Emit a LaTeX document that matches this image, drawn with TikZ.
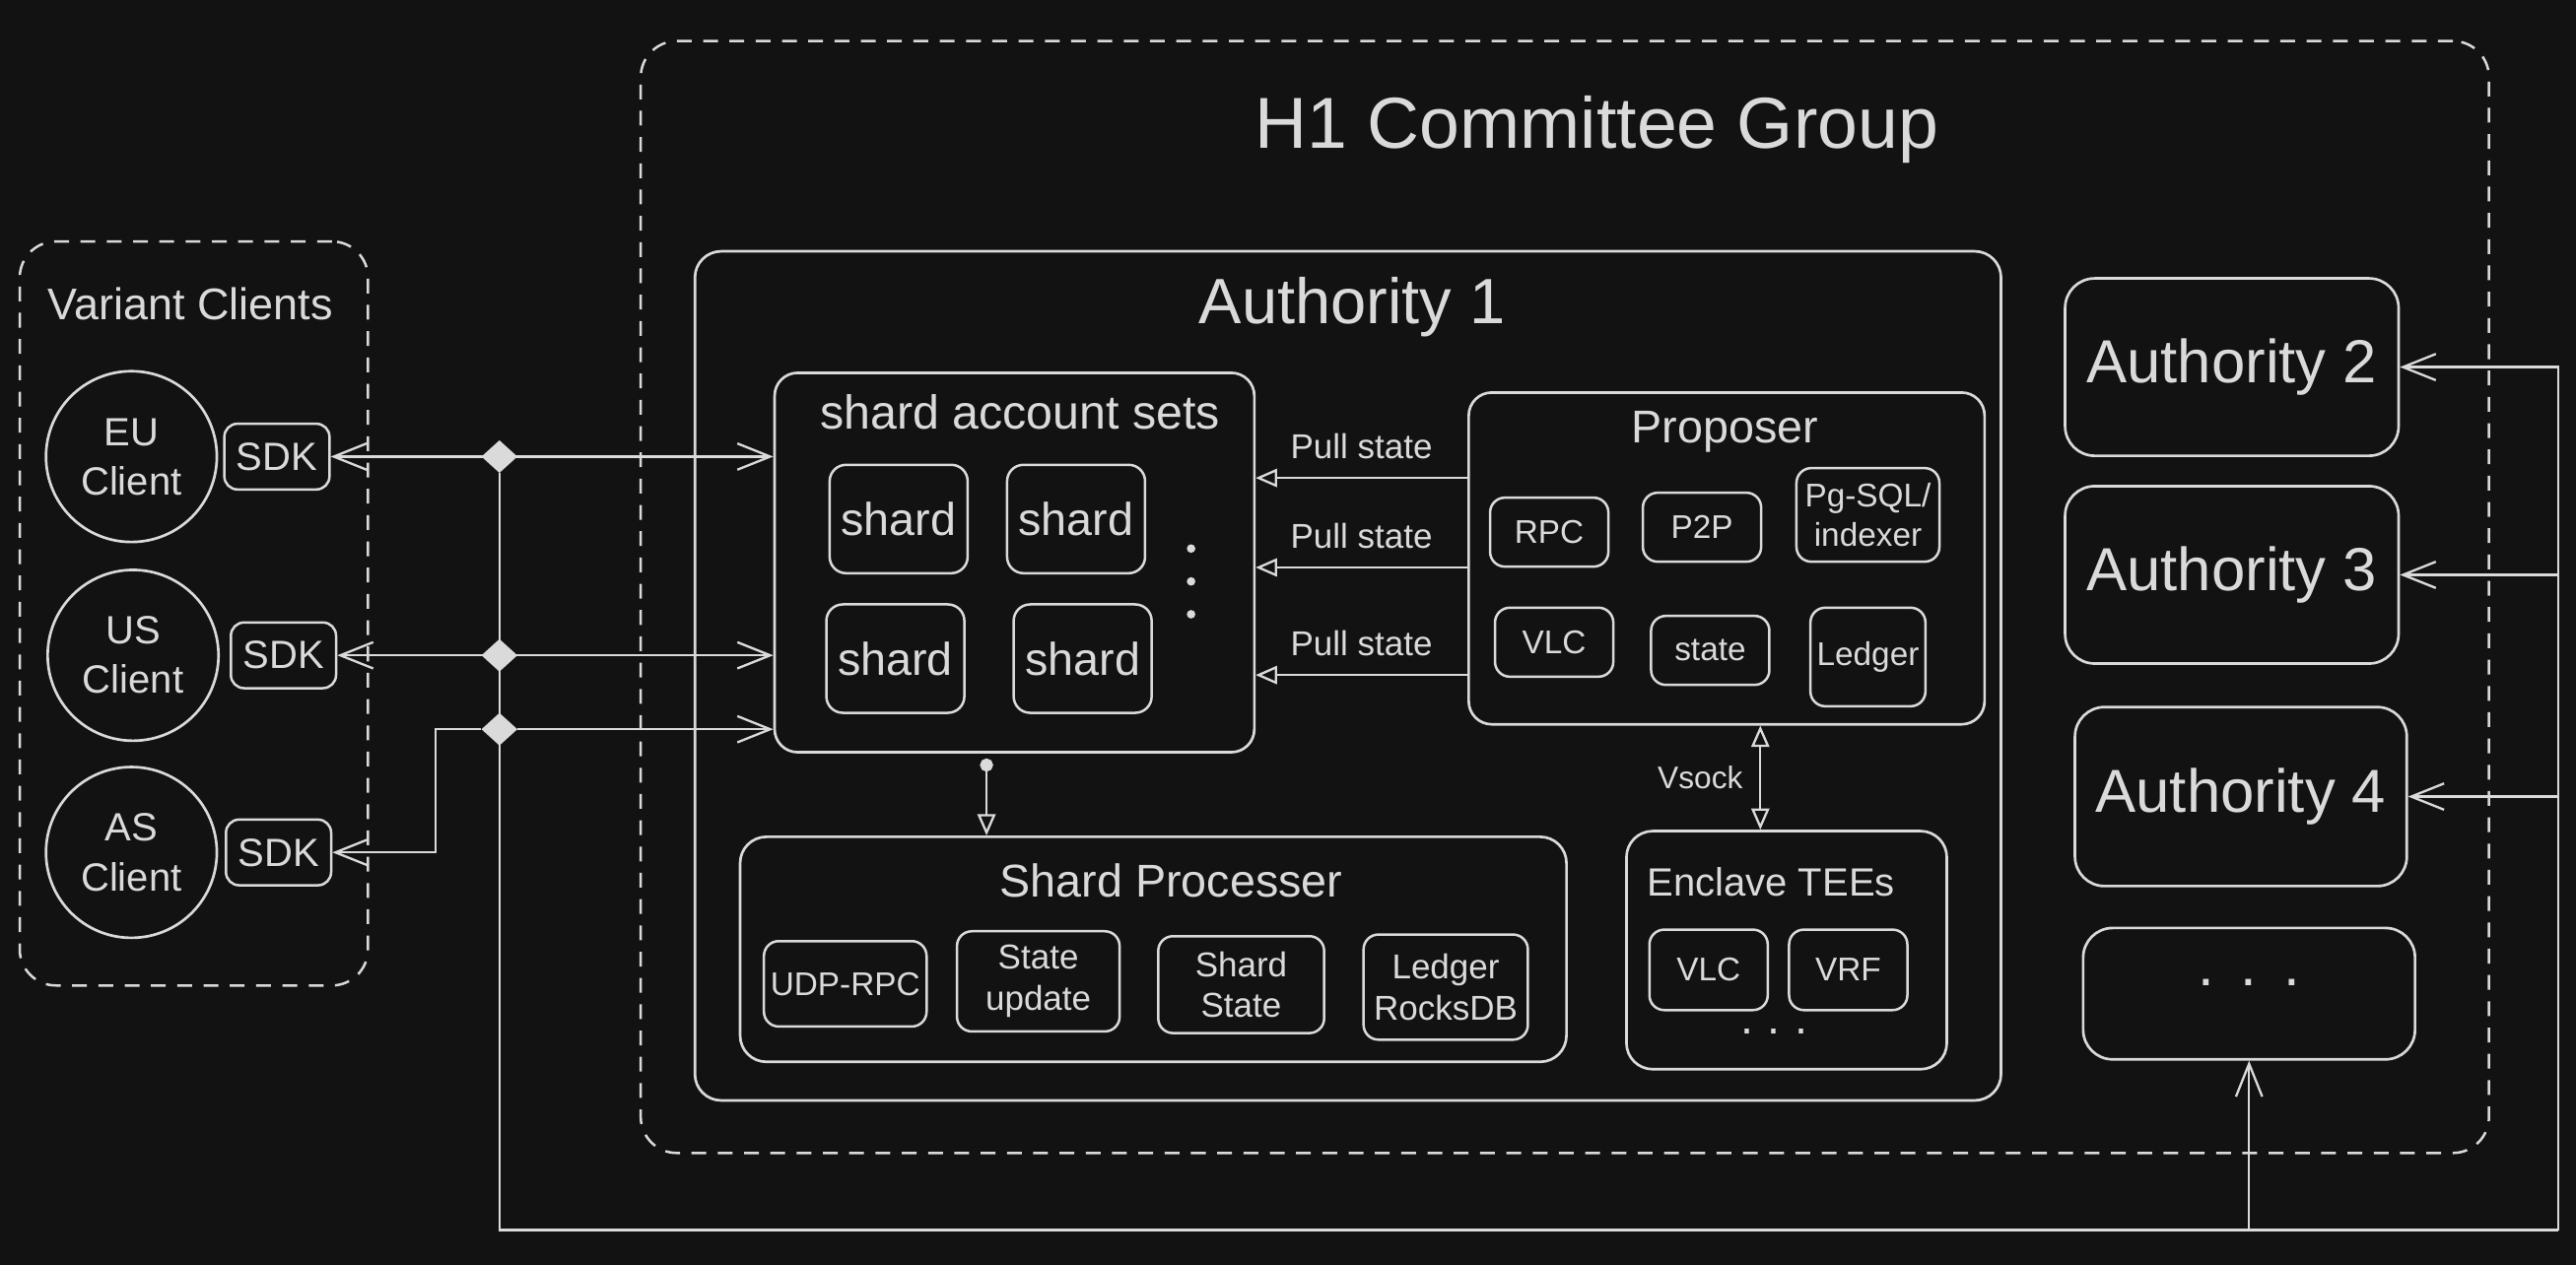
\documentclass[tikz,border=0pt]{standalone}
\usepackage{fontspec}
\setmainfont{Liberation Sans}
\usetikzlibrary{arrows.meta,positioning,shapes.geometric}
\definecolor{bgc}{HTML}{121212}
\definecolor{ink}{HTML}{DADADA}
\newcommand{\fs}[2]{\fontsize{#1pt}{#2pt}\selectfont}

\begin{document}
\begin{tikzpicture}[
    x=1pt, y=-1pt,
    every node/.style={text=ink, inner sep=2pt},
    group/.style={draw=ink, line width=1.5pt, dash pattern=on 9pt off 7pt, rounded corners=22pt},
    box/.style={draw=ink, line width=1.6pt, rounded corners=16pt},
    item/.style={draw=ink, line width=1.5pt, rounded corners=9pt, align=center, minimum width=72pt, minimum height=42pt, font=\fs{20}{24}},
    client/.style={circle, draw=ink, line width=1.6pt, minimum size=104pt, align=center, font=\fs{24}{30}},
    sdk/.style={draw=ink, line width=1.5pt, rounded corners=8pt, minimum width=64pt, minimum height=40pt, font=\fs{24}{28}},
    shardbox/.style={draw=ink, line width=1.5pt, rounded corners=10pt, minimum width=84pt, minimum height=66pt, font=\fs{28}{32}},
    auth/.style={draw=ink, line width=1.6pt, rounded corners=18pt, minimum width=203pt, minimum height=108pt, font=\fs{37}{44}},
    junc/.style={diamond, fill=ink, inner sep=0pt, minimum width=22pt, minimum height=20pt},
    wire/.style={draw=ink, line width=1.4pt},
    flow/.style={wire, -{Straight Barb[length=20pt, width=16pt]}},
    biflow/.style={wire, {Straight Barb[length=20pt, width=16pt]}-{Straight Barb[length=20pt, width=16pt]}},
    pull/.style={wire, -{Triangle[open, length=13pt, width=11pt]}},
    vsock/.style={wire, {Triangle[open, length=13pt, width=11pt]}-{Triangle[open, length=13pt, width=11pt]}},
    feed/.style={wire, shorten <=3pt, {Circle[length=8pt]}-{Triangle[open, length=13pt, width=11pt]}}
]
\useasboundingbox (0,0) rectangle (1568,770);
\fill[bgc] (0,0) rectangle (1568,770);

\node[group, minimum width=1125pt, minimum height=677pt] (h1) at (952.5,363.5) {};
\node[font=\fs{44}{52}] (h1t) at (972,79) {H1 Committee Group};

\node[group, minimum width=212pt, minimum height=453pt] (clients) at (118,373.5) {};
\node[font=\fs{27}{32}] (clientst) at (116,185) {Variant Clients};
\node[client] (eu) at (80,278) {EU\\Client};
\node[client] (us) at (81,399) {US\\Client};
\node[client] (as) at (80,519) {AS\\Client};
\node[sdk, right=3pt of eu] (sdkeu) {SDK};
\node[sdk, right=6pt of us] (sdkus) {SDK};
\node[sdk, right=4pt of as] (sdkas) {SDK};

\node[box, minimum width=795pt, minimum height=517pt] (a1) at (820.5,411.5) {};
\node[font=\fs{39}{46}] (a1t) at (823,187) {Authority 1};

\node[box, rounded corners=14pt, minimum width=292pt, minimum height=231pt] (sets) at (617.5,342.5) {};
\node[font=\fs{29}{34}] (setst) at (621,251) {shard account sets};
\node[shardbox] (sh1) at (547,316) {shard};
\node[shardbox] (sh2) at (655,316) {shard};
\node[shardbox] (sh3) at (545,401) {shard};
\node[shardbox] (sh4) at (659,401) {shard};
\foreach \y in {334,354,374} \fill[ink] (725,\y) circle (2.6pt);

\node[box, rounded corners=14pt, minimum width=314pt, minimum height=202pt] (prop) at (1051,340) {};
\node[font=\fs{28}{32}] (propt) at (1050,263) {Proposer};
\node[item] (rpc) at (943,324) {RPC};
\node[item] (p2p) at (1036,321) {P2P};
\node[item, minimum width=87pt, minimum height=57pt] (pg) at (1137,313.5) {Pg-SQL/\\indexer};
\node[item] (vlc) at (946,391) {VLC};
\node[item] (st) at (1041,396) {state};
\node[item, minimum width=70pt, minimum height=60pt] (ledger) at (1137,400) {Ledger};

\node[box, minimum width=503pt, minimum height=137pt] (proc) at (702,578) {};
\node[font=\fs{28}{32}] (proct) at (713,536) {Shard Processer};
\node[item, minimum width=99pt, minimum height=52pt] (udp) at (514.5,599) {UDP-RPC};
\node[item, minimum width=99pt, minimum height=61pt, font=\fs{21}{25}] (stup) at (632,597.5) {State\\update};
\node[item, minimum width=101pt, minimum height=59pt, font=\fs{21}{25}] (shst) at (755.5,599.5) {Shard\\State};
\node[item, minimum width=100pt, minimum height=64pt, font=\fs{21}{25}] (rocks) at (880,601) {Ledger\\RocksDB};

\node[box, minimum width=195pt, minimum height=145pt] (enc) at (1087.5,578.5) {};
\node[font=\fs{24}{28}] (enct) at (1078,537) {Enclave TEEs};
\node[item, minimum height=49pt] (evlc) at (1040,590.5) {VLC};
\node[item, minimum height=49pt] (evrf) at (1125,590.5) {VRF};
\node[font=\fs{28}{32}] (encdots) at (1080,628) {.\hspace{9pt}.\hspace{9pt}.};

\node[auth] (a2) at (1358.5,223.5) {Authority 2};
\node[auth] (a3) at (1358.5,350) {Authority 3};
\node[auth, minimum width=202pt, minimum height=109pt] (a4) at (1364,485) {Authority 4};
\node[auth, minimum width=202pt, minimum height=80pt, text depth=14pt, font=\fs{36}{40}] (more) at (1369,605) {.\hspace{16pt}.\hspace{16pt}.};

\node[junc] (j1) at (304,278) {};
\node[junc] (j2) at (304,399) {};
\node[junc] (j3) at (304,444) {};
\coordinate (asbend) at (265,444);
\coordinate (busL) at (304,749);
\coordinate (busM) at (1369,749);
\coordinate (busR) at (1557,749);

\draw[biflow] (sdkeu.east) -- (sdkeu.east -| sets.west);
\draw[biflow] (sdkus.east) -- (sdkus.east -| sets.west);
\draw[flow] (j3) -- (j3 -| sets.west);
\draw[flow] (j3) -- (asbend) |- (sdkas.east);
\draw[wire] (j1) -- (busL) -- (busM) -- (busR);
\draw[flow] (busM) -- (more.south);
\draw[flow] (busR) |- (a2.east);
\draw[flow] (busR |- a3.east) -- (a3.east);
\draw[flow] (busR |- a4.east) -- (a4.east);

\foreach \dy [count=\i] in {49,-5.5,-71}
  \draw[pull] ([yshift=\dy pt]prop.west) -- ([yshift=\dy pt]prop.west -| sets.east)
    node[midway, above=9pt, font=\fs{21}{24}] (pull\i) {Pull state};
\draw[feed] ([xshift=-17pt]sets.south) -- ([xshift=-17pt]sets.south |- proc.north);
\draw[vsock] ([xshift=-16pt]enc.north) -- ([xshift=-16pt]enc.north |- prop.south)
  node[midway, left=8pt, font=\fs{19}{22}] (vsockt) {Vsock};
\end{tikzpicture}
\end{document}
